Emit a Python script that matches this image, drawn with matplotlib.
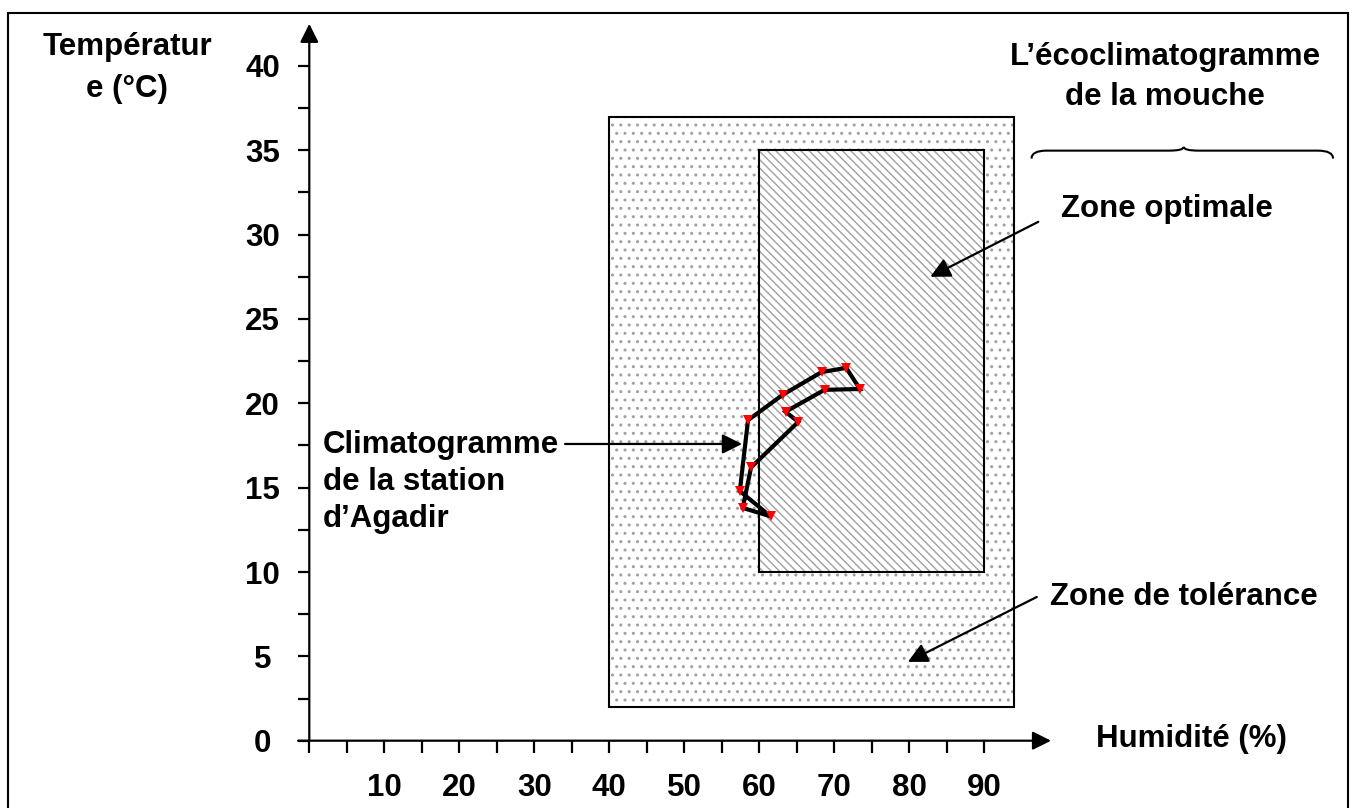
import numpy as np
import matplotlib
matplotlib.use('Agg')
import matplotlib.pyplot as plt
from matplotlib.patches import Rectangle, PathPatch
from matplotlib.path import Path

plt.rcParams['font.family'] = ['Liberation Sans', 'DejaVu Sans']
plt.rcParams['font.weight'] = 'bold'
plt.rcParams['font.size'] = 22.5
plt.rcParams['hatch.linewidth'] = 1.0

# climatogramme d'Agadir (humidite %, temperature C), boucle fermee
humidite = [71.6, 73.4, 68.7, 63.5, 65.2, 58.9, 57.8, 61.5, 57.4, 58.5, 63.1, 68.3]
temperature = [22.1, 20.85, 20.8, 19.5, 18.9, 16.2, 13.8, 13.3, 14.8, 19.0, 20.5, 21.85]

# zones de l'ecoclimatogramme de la mouche : (hum min, hum max, temp min, temp max)
zone_tolerance = (40, 94, 2, 37)
zone_optimale = (60, 90, 10, 35)

x_ticks = np.arange(0, 95, 5)
y_major = np.arange(0, 45, 5)
y_minor = np.arange(2.5, 40, 5)

fig = plt.figure(figsize=(13.52, 8.08), dpi=100)
ax = fig.add_axes([0, 0, 1, 1])
ax.set_xlim(-41.24, 139.03)
ax.set_ylim(-3.99, 43.91)
for s in ['top', 'right', 'left', 'bottom']:
    ax.spines[s].set_visible(False)
ax.spines['left'].set_position(('data', 0))
ax.spines['bottom'].set_position(('data', 0))

ax.set_xticks(x_ticks)
ax.set_xticklabels(['' if v % 10 or v == 0 else str(v) for v in x_ticks])
ax.tick_params(axis='x', direction='out', length=8.4, width=1.6, pad=15)
ax.set_yticks(y_major)
ax.set_yticklabels([str(v) for v in y_major])
ax.set_yticks(y_minor, minor=True)
ax.tick_params(axis='y', which='both', direction='out', length=7.7, width=1.6, pad=26)
for lbl in ax.get_yticklabels():
    lbl.set_horizontalalignment('center')

# axes avec fleches
arrow_kw = dict(arrowstyle='-|>', color='black', lw=1.6, mutation_scale=28, shrinkA=0, shrinkB=0)
ax.annotate('', xy=(0, 42.5), xytext=(0, 0), arrowprops=arrow_kw)
ax.annotate('', xy=(98.9, 0), xytext=(-1.5, 0), arrowprops=arrow_kw)

# zones
x0, x1, y0, y1 = zone_tolerance
ax.add_patch(Rectangle((x0, y0), x1 - x0, y1 - y0, facecolor='white', edgecolor='#a0a0a0',
                       hatch='..', lw=0, zorder=1))
ax.add_patch(Rectangle((x0, y0), x1 - x0, y1 - y0, fill=False, edgecolor='black', lw=1.5, zorder=2))
x0, x1, y0, y1 = zone_optimale
ax.add_patch(Rectangle((x0, y0), x1 - x0, y1 - y0, facecolor='white', edgecolor='#a0a0a0',
                       hatch='\\\\\\\\', lw=0, zorder=3))
ax.add_patch(Rectangle((x0, y0), x1 - x0, y1 - y0, fill=False, edgecolor='black', lw=1.5, zorder=4))

# climatogramme
hx = humidite + humidite[:1]
ty = temperature + temperature[:1]
ax.plot(hx, ty, color='black', lw=3, zorder=5, solid_joinstyle='miter')
ax.plot(humidite, temperature, 'v', color='red', markersize=6.5, markeredgewidth=0, zorder=6)

# textes
ax.text(-24.3, 40.65, 'Températur', ha='center', va='baseline')
ax.text(-24.3, 38.16, 'e (°C)', ha='center', va='baseline')
ax.text(114.1, 40.05, 'L\u2019écoclimatogramme', ha='center', va='baseline')
ax.text(114.1, 37.68, 'de la mouche', ha='center', va='baseline')
ax.text(114.4, 31.05, 'Zone optimale', ha='center', va='baseline')
ax.text(116.6, 8.04, 'Zone de tolérance', ha='center', va='baseline')
ax.text(117.6, -0.37, 'Humidité (%)', ha='center', va='baseline')
ax.text(1.83, 17.06, 'Climatogramme', ha='left', va='baseline')
ax.text(1.83, 14.86, 'de la station', ha='left', va='baseline')
ax.text(1.83, 12.66, 'd\u2019Agadir', ha='left', va='baseline')

# fleches d'annotation
ann_kw = dict(arrowstyle='-|>', color='black', lw=1.6, mutation_scale=30, shrinkA=0, shrinkB=0)
ax.annotate('', xy=(82.8, 27.5), xytext=(97.2, 30.76), arrowprops=ann_kw)
ax.annotate('', xy=(79.8, 4.67), xytext=(97.0, 8.52), arrowprops=ann_kw)
ax.annotate('', xy=(57.7, 17.59), xytext=(34.1, 17.59), arrowprops=ann_kw)

# accolade
xl, xm, xr = 96.3, 116.6, 136.5
yb, yh, yt = 34.51, 34.98, 35.2
verts = [(xl, yb), (xl, yh), (xl + 2, yh), (xm - 2, yh), (xm, yh), (xm, yt),
         (xm, yh), (xm + 2, yh), (xr - 2, yh), (xr, yh), (xr, yb)]
codes = [Path.MOVETO, Path.CURVE3, Path.CURVE3, Path.LINETO, Path.CURVE3, Path.CURVE3,
         Path.CURVE3, Path.CURVE3, Path.LINETO, Path.CURVE3, Path.CURVE3]
ax.add_patch(PathPatch(Path(verts, codes), fill=False, lw=1.5, edgecolor='black'))

# cadre
fig.patches.append(Rectangle((8 / 1352, -0.01), 1340 / 1352, 1 - 13 / 808 + 0.01,
                             transform=fig.transFigure, fill=False, lw=1.5, edgecolor='black'))

fig.savefig('out.png', dpi=100)
